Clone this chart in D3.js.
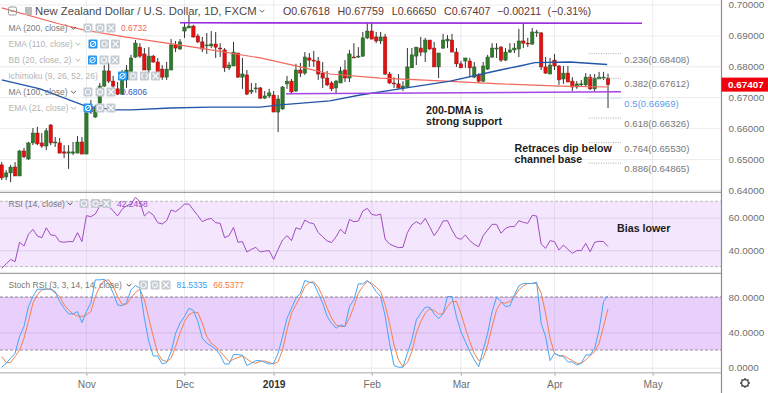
<!DOCTYPE html>
<html>
<head>
<meta charset="utf-8">
<script src="https://cdnjs.cloudflare.com/ajax/libs/d3/7.8.5/d3.min.js"></script>
<style>
  html, body { margin: 0; padding: 0; background: #fff; overflow: hidden; }
  svg { display: block; }
  text { font-family: "Liberation Sans", Arial, sans-serif; }
</style>
</head>
<body>
<div id="chart"></div>
<script>
// daily NZD/USD candles, index 0 = 5 Oct 2018
const opens = [
  .6481,.6442,.6455,.6474,.6445,.6526,.6500,.6552,.6584,.6552,
  .6542,.6610,.6552,.6552,.6523,.6519,.6519,.6519,.6555,.6516,
  .6668,.6636,.6681,.6736,.6785,.6752,.6727,.6710,.6756,.6782,
  .6830,.6862,.6840,.6788,.6833,.6814,.6791,.6765,.6788,.6869,
  .6856,.6914,.6924,.6930,.6898,.6879,.6866,.6866,.6872,.6859,
  .6853,.6795,.6801,.6843,.6765,.6772,.6717,.6727,.6730,.6697,
  .6704,.6707,.6652,.6662,.6743,.6752,.6720,.6788,.6778,.6827,
  .6820,.6817,.6778,.6762,.6746,.6730,.6746,.6788,.6762,.6830,
  .6830,.6833,.6892,.6914,.6895,.6882,.6895,.6775,.6746,.6743,
  .6730,.6733,.6795,.6833,.6859,.6846,.6885,.6859,.6798,.6859,
  .6882,.6885,.6846,.6808,.6817,.6817,.6765,.6772,.6752,.6791,
  .6830,.6856,.6862,.6820,.6846,.6853,.6856,.6882,.6875,.6872,
  .6908,.6908,.6798,.6775,.6820,.6801,.6759,.6778,.6752,.6733,
  .6740,.6740,.6765,.6727,.6759,.6762,.67618
];
const highs = [
  .6490,.6464,.6481,.6490,.6529,.6536,.6555,.6600,.6604,.6584,
  .6600,.6613,.6571,.6568,.6545,.6545,.6555,.6574,.6571,.6665,
  .6691,.6675,.6746,.6804,.6811,.6769,.6749,.6788,.6804,.6837,
  .6885,.6875,.6859,.6862,.6837,.6827,.6804,.6814,.6888,.6882,
  .6888,.6943,.6966,.6934,.6905,.6895,.6908,.6914,.6911,.6875,
  .6859,.6814,.6879,.6843,.6827,.6788,.6746,.6746,.6733,.6720,
  .6727,.6720,.6707,.6736,.6769,.6759,.6808,.6811,.6846,.6843,
  .6850,.6830,.6814,.6785,.6752,.6756,.6798,.6820,.6853,.6875,
  .6862,.6911,.6940,.6943,.6911,.6911,.6905,.6782,.6765,.6775,
  .6752,.6859,.6859,.6862,.6895,.6892,.6885,.6879,.6843,.6905,
  .6901,.6905,.6859,.6817,.6827,.6827,.6814,.6778,.6814,.6837,
  .6875,.6875,.6866,.6859,.6875,.6875,.6921,.6940,.6892,.6924,
  .6918,.6911,.6830,.6827,.6840,.6804,.6801,.6801,.6765,.6752,
  .6756,.6778,.6775,.6775,.6782,.6782,.67759
];
const lows = [
  .6432,.6432,.6425,.6445,.6445,.6503,.6497,.6545,.6545,.6536,
  .6529,.6545,.6539,.6519,.6503,.6468,.6513,.6519,.6516,.6516,
  .6646,.6633,.6675,.6733,.6746,.6730,.6707,.6707,.6730,.6778,
  .6827,.6827,.6788,.6778,.6811,.6765,.6756,.6756,.6788,.6846,
  .6853,.6892,.6924,.6892,.6875,.6846,.6840,.6859,.6827,.6830,
  .6782,.6788,.6801,.6762,.6727,.6707,.6710,.6714,.6694,.6694,
  .6697,.6652,.6587,.6659,.6727,.6710,.6717,.6765,.6772,.6798,
  .6798,.6756,.6730,.6736,.6720,.6710,.6746,.6749,.6749,.6827,
  .6827,.6830,.6888,.6888,.6875,.6872,.6772,.6743,.6730,.6727,
  .6720,.6730,.6795,.6804,.6833,.6814,.6853,.6798,.6762,.6856,
  .6859,.6846,.6798,.6795,.6795,.6765,.6762,.6746,.6749,.6788,
  .6827,.6827,.6814,.6817,.6843,.6843,.6830,.6859,.6862,.6869,
  .6895,.6788,.6775,.6775,.6788,.6740,.6743,.6749,.6720,.6727,
  .6736,.6736,.6723,.6717,.6759,.6756,.66650
];
const closes = [
  .6439,.6455,.6474,.6445,.6526,.6507,.6552,.6584,.6549,.6542,
  .6591,.6552,.6555,.6519,.6519,.6523,.6523,.6555,.6516,.6649,
  .6652,.6665,.6736,.6785,.6752,.6736,.6710,.6756,.6788,.6827,
  .6875,.6833,.6788,.6833,.6814,.6782,.6765,.6791,.6869,.6859,
  .6879,.6927,.6930,.6895,.6879,.6856,.6869,.6872,.6862,.6856,
  .6795,.6804,.6846,.6765,.6775,.6710,.6723,.6730,.6697,.6704,
  .6714,.6652,.6694,.6733,.6752,.6717,.6788,.6778,.6830,.6820,
  .6817,.6775,.6762,.6740,.6727,.6752,.6785,.6762,.6840,.6827,
  .6833,.6892,.6914,.6888,.6882,.6895,.6775,.6746,.6743,.6730,
  .6736,.6798,.6837,.6862,.6846,.6885,.6856,.6798,.6843,.6885,
  .6888,.6846,.6808,.6795,.6827,.6795,.6798,.6752,.6801,.6830,
  .6859,.6859,.6820,.6846,.6853,.6859,.6882,.6875,.6872,.6911,
  .6911,.6798,.6778,.6804,.6801,.6756,.6778,.6749,.6733,.6743,
  .6743,.6765,.6727,.6762,.6765,.6765,.67407
];

// moving averages, a reading every few bars
const ma200Idx = [0,13,18.3,27.6,37,44.5,58,67,73.6,84.9,93.8,111.8,125.2,135.8];
const ma200Val = [.6989,.6937,.6918,.6895,.6875,.6859,.6827,.6798,.6775,.6762,.6756,.6743,.6736,.6733];
const ma100Idx = [0,8.6,18.7,25.4,29,37.8,46.7,58,62.5,73.6,80.4,89.3,100.6,111.8,116.2,119.6,127.4,135.8];
const ma100Val = [.6756,.6727,.6672,.6659,.6659,.6665,.6668,.6668,.6675,.6688,.6707,.6727,.6752,.6788,.6801,.6812,.6814,.6806];

const rsiVal = [
  28.9,31.6,34.4,33.0,44.9,42.6,49.8,52.8,48.7,47.7,
  53.8,49.4,49.1,45.3,44.9,45.3,45.3,50.8,45.3,61.2,
  60.6,62.2,67.1,67.7,66.7,64.2,61.0,65.1,67.3,68.3,
  72.4,69.8,61.0,63.6,61.6,56.9,56.1,58.1,64.7,63.6,
  65.7,68.3,68.3,64.7,61.2,57.5,58.9,59.5,56.9,56.5,
  47.7,49.0,54.0,44.9,45.3,38.9,40.6,41.8,38.9,39.5,
  39.8,34.4,40.6,46.3,49.0,45.9,53.8,52.8,58.5,56.9,
  56.3,50.8,48.3,45.7,44.7,48.3,53.0,50.0,58.9,57.5,
  57.9,64.0,65.7,62.0,61.4,62.2,46.9,43.8,42.6,41.6,
  41.8,50.8,55.5,57.5,55.9,59.5,54.4,49.0,52.8,57.9,
  58.1,52.4,47.7,46.7,49.3,45.9,43.6,42.2,49.0,52.4,
  55.9,55.9,50.4,53.4,54.5,54.5,58.1,57.1,56.5,61.4,
  61.0,43.8,41.2,45.9,45.3,40.2,43.2,40.6,38.1,39.8,
  39.8,44.2,39.1,44.9,45.5,45.3,42.2458
];
const stochK = [
  0.5,5.0,10.7,16.3,35.2,46.6,69.2,80.5,88.8,88.8,
  88.8,88.8,86.2,74.9,67.3,60.9,60.9,63.5,51.1,63.5,
  73.0,99.4,99.4,100,95.6,84.3,71.1,70.0,73.7,88.1,
  93.0,90.0,56.0,29.5,13.3,13.3,4.2,5.8,18.2,39.0,
  50.3,57.9,67.3,64.7,52.2,33.3,27.7,24.6,20.9,14.4,
  4.2,4.2,14.8,14.8,14.1,2.4,5.0,8.0,8.0,6.1,
  4.2,5.0,16.3,35.2,56.0,67.3,78.6,84.3,98.7,96.8,
  95.6,84.3,73.0,57.9,50.3,44.7,48.4,46.6,69.2,76.8,
  94.9,94.9,98.7,93.8,86.2,80.5,58.6,27.7,2.4,0.5,
  0.5,16.3,31.4,54.1,61.7,68.4,68.4,60.9,55.6,60.9,
  80.5,80.5,57.9,40.9,29.5,18.2,8.8,1.2,20.1,39.0,
  63.5,79.8,74.9,69.2,70.0,82.4,92.6,95.3,95.3,95.3,
  96.8,50.3,35.2,8.0,16.3,13.7,12.6,6.5,6.5,3.1,
  5.0,14.4,14.4,22.0,42.8,74.9,81.5335
];
const stochD = [
  12.6,5.8,5.8,12.6,20.1,33.3,52.2,73.0,82.4,88.1,
  89.2,88.8,84.3,80.5,71.1,65.4,60.9,58.6,57.9,59.8,
  63.5,80.5,91.9,98.7,99.4,91.9,80.5,71.8,71.8,78.6,
  85.1,88.8,76.8,56.0,35.2,16.3,8.8,6.9,10.7,23.9,
  39.0,52.2,59.8,62.8,62.4,50.3,35.2,27.7,23.9,18.2,
  12.6,6.9,9.5,11.4,13.7,9.9,6.1,5.0,7.3,7.6,
  5.8,4.2,6.9,20.1,42.8,61.7,71.1,80.5,91.9,96.4,
  97.2,91.1,80.5,67.3,56.0,48.4,46.6,46.6,56.0,69.2,
  84.3,91.9,97.5,95.6,91.1,86.2,71.1,50.3,25.8,8.8,
  1.2,5.8,18.2,39.0,52.2,61.7,66.6,64.7,60.9,60.9,
  69.2,74.9,74.9,61.7,44.7,29.5,16.3,8.0,10.7,25.8,
  46.6,65.4,73.7,73.0,74.9,80.5,88.1,92.6,95.3,95.3,
  95.3,84.3,61.7,33.3,16.3,13.3,13.7,10.7,8.0,5.0,
  5.0,8.8,13.7,18.2,27.7,46.6,66.5377
];

const priceTicks = [0.64,0.65,0.66,0.67,0.68,0.69,0.70];
const rsiTicks = [40,60];
const stochTicks = [0,40,80];
const monthIdx = [19,41,61,83,103,124,146];
const monthLabels = ['Nov','Dec','2019','Feb','Mar','Apr','May'];

// fibonacci levels
const fibNames = ['0.236(0.68408)','0.382(0.67612)','0.5(0.66969)','0.618(0.66326)','0.764(0.65530)','0.886(0.64865)'];
const fibLine = [.68408,.67612,.66969,.66326,.6553,.64865];
const lastClose = 0.67407;

const W = 768, H = 393, axisX = 721.5;
const FONT = 9.6, LEGEND = 8.5;

const svg = d3.select('#chart').append('svg').attr('width', W).attr('height', H);

const x = d3.scaleLinear().domain([0, 146]).range([1.7, 652.6]);
const yPrice = d3.scaleLinear().domain([0.64, 0.70]).range([189.9, 4.5]);
const yRsi = d3.scaleLinear().domain([30, 70]).range([266.6, 201.3]);
const yStoch = d3.scaleLinear().domain([0, 80]).range([367.7, 297]);

// panes
const panes = [[0, 192, yPrice, priceTicks, d3.format('.5f')], [192, 273, yRsi, rsiTicks, d3.format('.4f')], [273, 372.5, yStoch, stochTicks, d3.format('.4f')]];

svg.append('defs').selectAll('clipPath').data(panes).join('clipPath')
  .attr('id', (d, i) => 'pane' + i)
  .append('rect').attr('x', 0).attr('width', axisX).attr('y', d => d[0]).attr('height', d => d[1] - d[0]);

// bands under the grid
svg.append('rect').attr('x', 0).attr('width', axisX)
  .attr('y', yRsi(70)).attr('height', yRsi(30) - yRsi(70)).attr('fill', '#f4e7fd');
svg.append('rect').attr('x', 0).attr('width', axisX)
  .attr('y', yStoch(80)).attr('height', yStoch(20) - yStoch(80)).attr('fill', '#e9cffb');

// grid + right axes
panes.forEach(p => {
  const g = svg.append('g').attr('transform', `translate(${axisX},0)`);
  g.call(d3.axisRight(p[2]).tickValues(p[3]).tickFormat(p[4]).tickSize(0).tickPadding(7));
  g.select('.domain').remove();
  g.selectAll('text').attr('fill', '#6f6f6f').attr('font-size', FONT + 0.3).attr('font-family', '"Liberation Sans"');
  g.selectAll('.tick line').attr('x1', -axisX).attr('x2', 0).attr('stroke', p[2] === yPrice ? '#ececec' : 'rgba(120,90,150,0.16)');
});

const timeGrid = svg.append('g').attr('transform', 'translate(0,372.5)');
timeGrid.call(d3.axisBottom(x).tickValues(monthIdx)
  .tickFormat((d, i) => monthLabels[i]).tickSize(3).tickPadding(5));
timeGrid.select('.domain').remove();
timeGrid.selectAll('text').attr('font-size', FONT + 0.6).attr('font-family', '"Liberation Sans"')
  .attr('fill', (d, i) => monthLabels[i] === '2019' ? '#333' : '#6f6f6f')
  .attr('font-weight', (d, i) => monthLabels[i] === '2019' ? 'bold' : 'normal');
timeGrid.selectAll('.tick line').attr('stroke', '#999');
svg.append('g').selectAll('line').data(monthIdx).join('line')
  .attr('x1', d => x(d)).attr('x2', d => x(d)).attr('y1', 0).attr('y2', 372.5)
  .attr('stroke', 'rgba(130,130,150,0.14)');

// dashed band edges
[yRsi(70), yRsi(30), yStoch(80), yStoch(20)].forEach((yy, i) => {
  svg.append('line').attr('x1', 0).attr('x2', axisX).attr('y1', yy).attr('y2', yy)
    .attr('stroke', i < 2 ? '#bbb' : '#9a8a9a').attr('stroke-dasharray', '3 2');
});

// candles
const candles = svg.append('g').attr('clip-path', 'url(#pane0)');
const bars = d3.range(opens.length);
candles.selectAll('line').data(bars).join('line')
  .attr('x1', i => x(i)).attr('x2', i => x(i))
  .attr('y1', i => yPrice(highs[i])).attr('y2', i => yPrice(lows[i]))
  .attr('stroke', '#333').attr('stroke-width', 1);
candles.selectAll('rect').data(bars).join('rect')
  .attr('x', i => x(i) - 1.7).attr('width', 3.4)
  .attr('y', i => yPrice(Math.max(opens[i], closes[i])))
  .attr('height', i => Math.max(0.8, Math.abs(yPrice(opens[i]) - yPrice(closes[i]))))
  .attr('fill', i => closes[i] >= opens[i] ? '#2f7a2b' : '#e8100f')
  .attr('stroke', i => closes[i] >= opens[i] ? '#2a5a26' : '#8a1512').attr('stroke-width', 0.5);

// moving averages
const idxLine = (xs, ys, sc) => d3.line().x((d, i) => x(xs[i])).y((d, i) => sc(ys[i]))(ys);
svg.append('path').attr('d', idxLine(ma200Idx, ma200Val, yPrice))
  .attr('fill', 'none').attr('stroke', '#f2685c').attr('stroke-width', 1.2);
svg.append('path').attr('d', idxLine(ma100Idx, ma100Val, yPrice))
  .attr('fill', 'none').attr('stroke', '#2255a8').attr('stroke-width', 1.4);

// channel lines
svg.append('line').attr('x1', 180).attr('x2', 642).attr('y1', 22.8).attr('y2', 23.3)
  .attr('stroke', '#9a2fe0').attr('stroke-width', 1.6);
svg.append('line').attr('x1', 286).attr('x2', 621).attr('y1', 93.7).attr('y2', 91.8)
  .attr('stroke', '#a347e6').attr('stroke-width', 1.6);

// fib levels
fibLine.forEach((p, i) => {
  const col = i === 2 ? '#5c9cf0' : '#777';
  svg.append('line').attr('x1', 589).attr('x2', 621).attr('y1', yPrice(p)).attr('y2', yPrice(p))
    .attr('stroke', i === 2 ? '#9cc0f0' : '#aaa').attr('stroke-dasharray', '1 1.4');
  svg.append('text').attr('x', 624.3).attr('y', yPrice(p) + 9)
    .attr('font-size', FONT).attr('fill', col).text(fibNames[i]);
});

// indicator lines
const seq = () => d3.line().x((d, i) => x(i));
svg.append('path').attr('d', seq().y(d => yRsi(d))(rsiVal))
  .attr('fill', 'none').attr('stroke', '#a04cc0').attr('stroke-width', 1);
svg.append('path').attr('d', seq().y(d => yStoch(d))(stochD))
  .attr('fill', 'none').attr('stroke', '#f4804a').attr('stroke-width', 1);
svg.append('path').attr('d', seq().y(d => yStoch(d))(stochK))
  .attr('fill', 'none').attr('stroke', '#45a5f5').attr('stroke-width', 1);

// pane frame
svg.append('line').attr('x1', 0).attr('x2', axisX).attr('y1', 192.3).attr('y2', 192.3).attr('stroke', '#8c8c8c').attr('stroke-width', 1);
svg.append('line').attr('x1', 0).attr('x2', axisX).attr('y1', 273.3).attr('y2', 273.3).attr('stroke', '#8c8c8c').attr('stroke-width', 1);
svg.append('line').attr('x1', 0).attr('x2', axisX).attr('y1', 372.7).attr('y2', 372.7).attr('stroke', '#c4c4c4').attr('stroke-width', 1.5);
svg.append('line').attr('x1', axisX).attr('x2', axisX).attr('y1', 0).attr('y2', H).attr('stroke', '#8c8c8c').attr('stroke-width', 1.2);

// last price tag
svg.append('rect').attr('x', axisX).attr('width', W - axisX).attr('y', yPrice(lastClose) - 7).attr('height', 14).attr('fill', '#f0000a');
svg.append('text').attr('x', 728).attr('y', yPrice(lastClose) + 3.4).attr('font-size', FONT + 0.3)
  .attr('font-weight', 'bold').attr('fill', '#fff').text(d3.format('.5f')(lastClose));

// gear bottom right
const gear = svg.append('g').attr('transform', 'translate(745,383)').attr('fill', 'none').attr('stroke', '#444');
gear.append('circle').attr('r', 3.4).attr('stroke-width', 1.2);
gear.selectAll('line').data(d3.range(8)).join('line')
  .attr('y1', -3.6).attr('y2', -5).attr('stroke-width', 1.3)
  .attr('transform', d => `rotate(${d * 45})`);

// annotations
const note = (tx, ty, s, size) => svg.append('text').attr('x', tx).attr('y', ty)
  .attr('font-size', size).attr('font-weight', 'bold').attr('fill', '#1c1c1c').text(s);
note(426, 114, '200-DMA is', 10.7);
note(426, 124.5, 'strong support', 10.7);
note(514.5, 152, 'Retraces dip below', 10.7);
note(514.5, 163, 'channel base', 10.7);
note(617, 232, 'Bias lower', 10.7);

// legend rows ------------------------------------------------------
const header = svg.append('g');
header.append('rect').attr('x', 8.5).attr('y', 7).attr('width', 8).attr('height', 8).attr('rx', 1.5)
  .attr('fill', 'none').attr('stroke', '#999');
header.append('line').attr('x1', 10.5).attr('x2', 14.5).attr('y1', 11).attr('y2', 11).attr('stroke', '#999');
header.append('rect').attr('x', 25).attr('y', 7).attr('width', 7).attr('height', 8).attr('fill', '#bbb');

const legendText = (tx, ty, s, col, size) => svg.append('text').attr('x', tx).attr('y', ty)
  .attr('font-size', size || LEGEND).attr('fill', col).text(s);
const chevron = (cx, cy, col) => svg.append('path')
  .attr('d', d3.line()([[cx - 2.4, cy - 1], [cx, cy + 1.2], [cx + 2.4, cy - 1]]))
  .attr('fill', 'none').attr('stroke', col).attr('stroke-width', 0.9);

legendText(35, 15, 'New Zealand Dollar / U.S. Dollar, 1D, FXCM', '#4a4a4a', 11.3);
chevron(262, 11, '#555');
const ohlcCol = '#5e3636';
[[283, 'O0.67618'], [337.6, 'H0.67759'], [391.7, 'L0.66650'], [444, 'C0.67407'], [497, '\u22120.00211'], [547.5, '(\u22120.31%)']]
  .forEach(d => legendText(d[0], 15, d[1], ohlcCol, 10.7));

function icon(cx, cy, kind, on) {
  const g = svg.append('g').attr('transform', `translate(${cx},${cy})`);
  g.append('rect').attr('x', -4.5).attr('y', -4.5).attr('width', 9).attr('height', 9).attr('rx', 1)
    .attr('fill', on ? '#2196f3' : '#c5cbd3');
  const s = g.append('g').attr('fill', 'none').attr('stroke', '#fff').attr('stroke-width', 1);
  if (kind === 'eye') {
    s.append('circle').attr('r', 2.7);
    if (on) s.append('line').attr('x1', -3).attr('x2', 3).attr('y1', 2.4).attr('y2', -2.4);
  } else if (kind === 'gear') {
    s.append('circle').attr('r', 2.5).attr('stroke-width', 1.4).attr('stroke-dasharray', '1.4 .5');
  } else if (kind === 'code') {
    s.append('path').attr('d', 'M-1.5,-3 L-3,0 L-1.5,3 M1.5,-3 L3,0 L1.5,3');
  } else {
    s.append('path').attr('d', 'M-2.8,-2.8 L2.8,2.8 M-2.8,2.8 L2.8,-2.8').attr('stroke-width', 1.2);
  }
}
function legendRow(ty, label, col, chevX, iconXs, hidden, ichi) {
  legendText(8.5, ty + 3.2, label, col);
  if (chevX) chevron(chevX, ty, col === '#777' ? '#444' : '#aaa');
  iconXs.forEach((ix, i) => {
    const kind = i === 0 ? 'eye' : (ichi && i === 2 ? 'code' : (i === iconXs.length - 1 ? 'x' : 'gear'));
    icon(ix, ty, kind, i === 0 && hidden);
  });
}
legendRow(28, 'MA (200, close)', '#777', 73.5, [88, 100, 111], false);
legendRow(44, 'EMA (110, close)', '#b4b4b4', 78, [93, 104.5, 115.5], true);
legendRow(60, 'BB (20, close, 2)', '#b4b4b4', 78, [92.5, 104, 115], true);
legendRow(76, 'Ichimoku (9, 26, 52, 26)', '#b4b4b4', 0, [122.5, 133, 144.5, 155.5], true, true);
legendRow(92, 'MA (100, close)', '#777', 73.5, [88, 100, 111], false);
legendRow(108, 'EMA (21, close)', '#b4b4b4', 73.5, [88, 100, 111], true);
legendText(121, 31.2, '0.6732', '#f2685c');
legendText(121, 95.2, '0.6806', '#2a62c0');
legendRow(203.5, 'RSI (14, close)', '#777', 70, [84, 95.5, 106.5], false);
legendText(117, 206.7, '42.2458', '#a04cc0');
legendRow(285, 'Stoch RSI (3, 3, 14, 14, close)', '#777', 129, [143.5, 155, 166], false);
legendText(176.5, 288.2, '81.5335', '#3a9cf0');
legendText(213.3, 288.2, '66.5377', '#f47a3a');
</script>
</body>
</html>
